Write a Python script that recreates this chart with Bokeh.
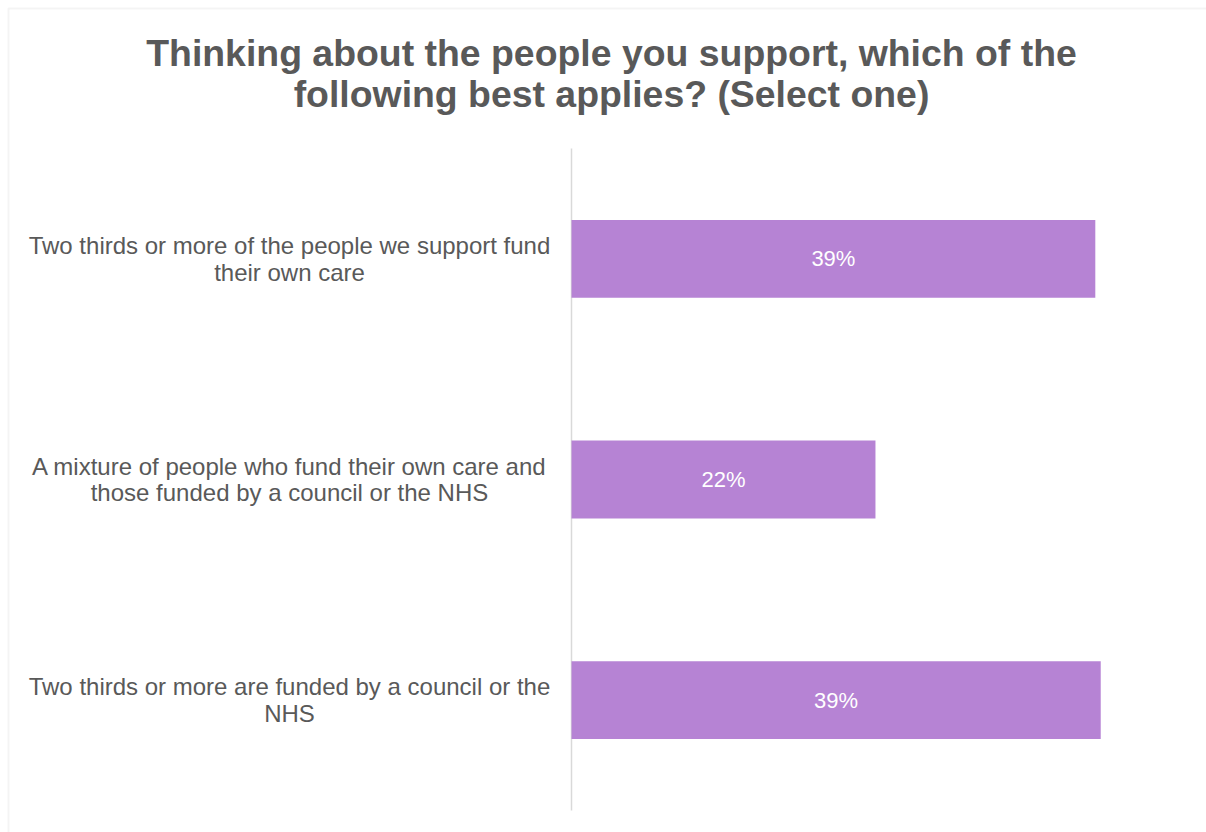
from bokeh.plotting import figure
from bokeh.models import ColumnDataSource, Range1d, Label, BoxAnnotation
from bokeh.core.properties import value
from bokeh.embed import file_html
from bokeh.resources import INLINE

categories = [
    "Two thirds or more of the people we support fund\ntheir own care",
    "A mixture of people who fund their own care and\nthose funded by a council or the NHS",
    "Two thirds or more are funded by a council or the\nNHS",
]
percentages = [38.6, 22.4, 39.0]
title_text = "Thinking about the people you support, which of the\nfollowing best applies? (Select one)"

GREY = "#595959"
BAR = "#B683D4"

n = len(categories)
ypos = [n - i - 0.5 for i in range(n)]  # first category on top
src = ColumnDataSource(dict(
    y=ypos,
    cat=categories,
    val=percentages,
    mid=[v / 2 for v in percentages],
    lab=[f"{round(v)}%" for v in percentages],
    zero=[0] * n,
))

# frame covers whole canvas; ranges chosen so that the category band area
# sits at 148..810 px and value 0 sits at x = 571 px
W, H = 1206, 832
px_per_unit = 13.57
band_px = 662 / n
x_range = Range1d(-571 / px_per_unit, (W - 571) / px_per_unit)
y_range = Range1d(-22 / band_px, n + 148 / band_px)

p = figure(width=W, height=H, output_backend="svg", toolbar_location=None,
           x_range=x_range, y_range=y_range)
p.min_border = 0
p.min_border_left = 0
p.min_border_right = 0
p.min_border_top = 0
p.min_border_bottom = 0
p.outline_line_color = None
p.background_fill_color = "white"
p.border_fill_color = "white"
p.xgrid.visible = False
p.ygrid.visible = False
p.xaxis.visible = False
p.yaxis.visible = False

# category axis line
p.segment(x0=[0], y0=[0], x1=[0], y1=[n], line_color="#d9d9d9", line_width=1.5)

p.hbar(y="y", left=0, right="val", height=0.353, source=src,
       fill_color=BAR, line_color=None)

p.text(x="mid", y="y", text="lab", source=src, text_color="white",
       text_font=value("Liberation Sans"), text_font_size="22px",
       text_align="center", text_baseline="middle")

p.text(x="zero", y="y", text="cat", source=src, text_color=GREY,
       text_font=value("Liberation Sans"), text_font_size="24px",
       text_align="center", text_baseline="middle", x_offset=-282,
       text_line_height=0.98)

title = Label(x=611, y=31, x_units="canvas", y_units="canvas", text=title_text,
              text_align="center", text_baseline="top",
              text_font="Liberation Sans", text_font_size="37.4px",
              text_font_style="bold", text_color=GREY, text_line_height=0.99)
p.add_layout(title)

border = BoxAnnotation(left=8, right=1300, top=8, bottom=1000,
                       left_units="canvas", right_units="canvas",
                       top_units="canvas", bottom_units="canvas",
                       fill_alpha=0, line_color="#d9d9d9", line_width=2)
p.add_layout(border)

open("out.html", "w").write(file_html(p, INLINE))
